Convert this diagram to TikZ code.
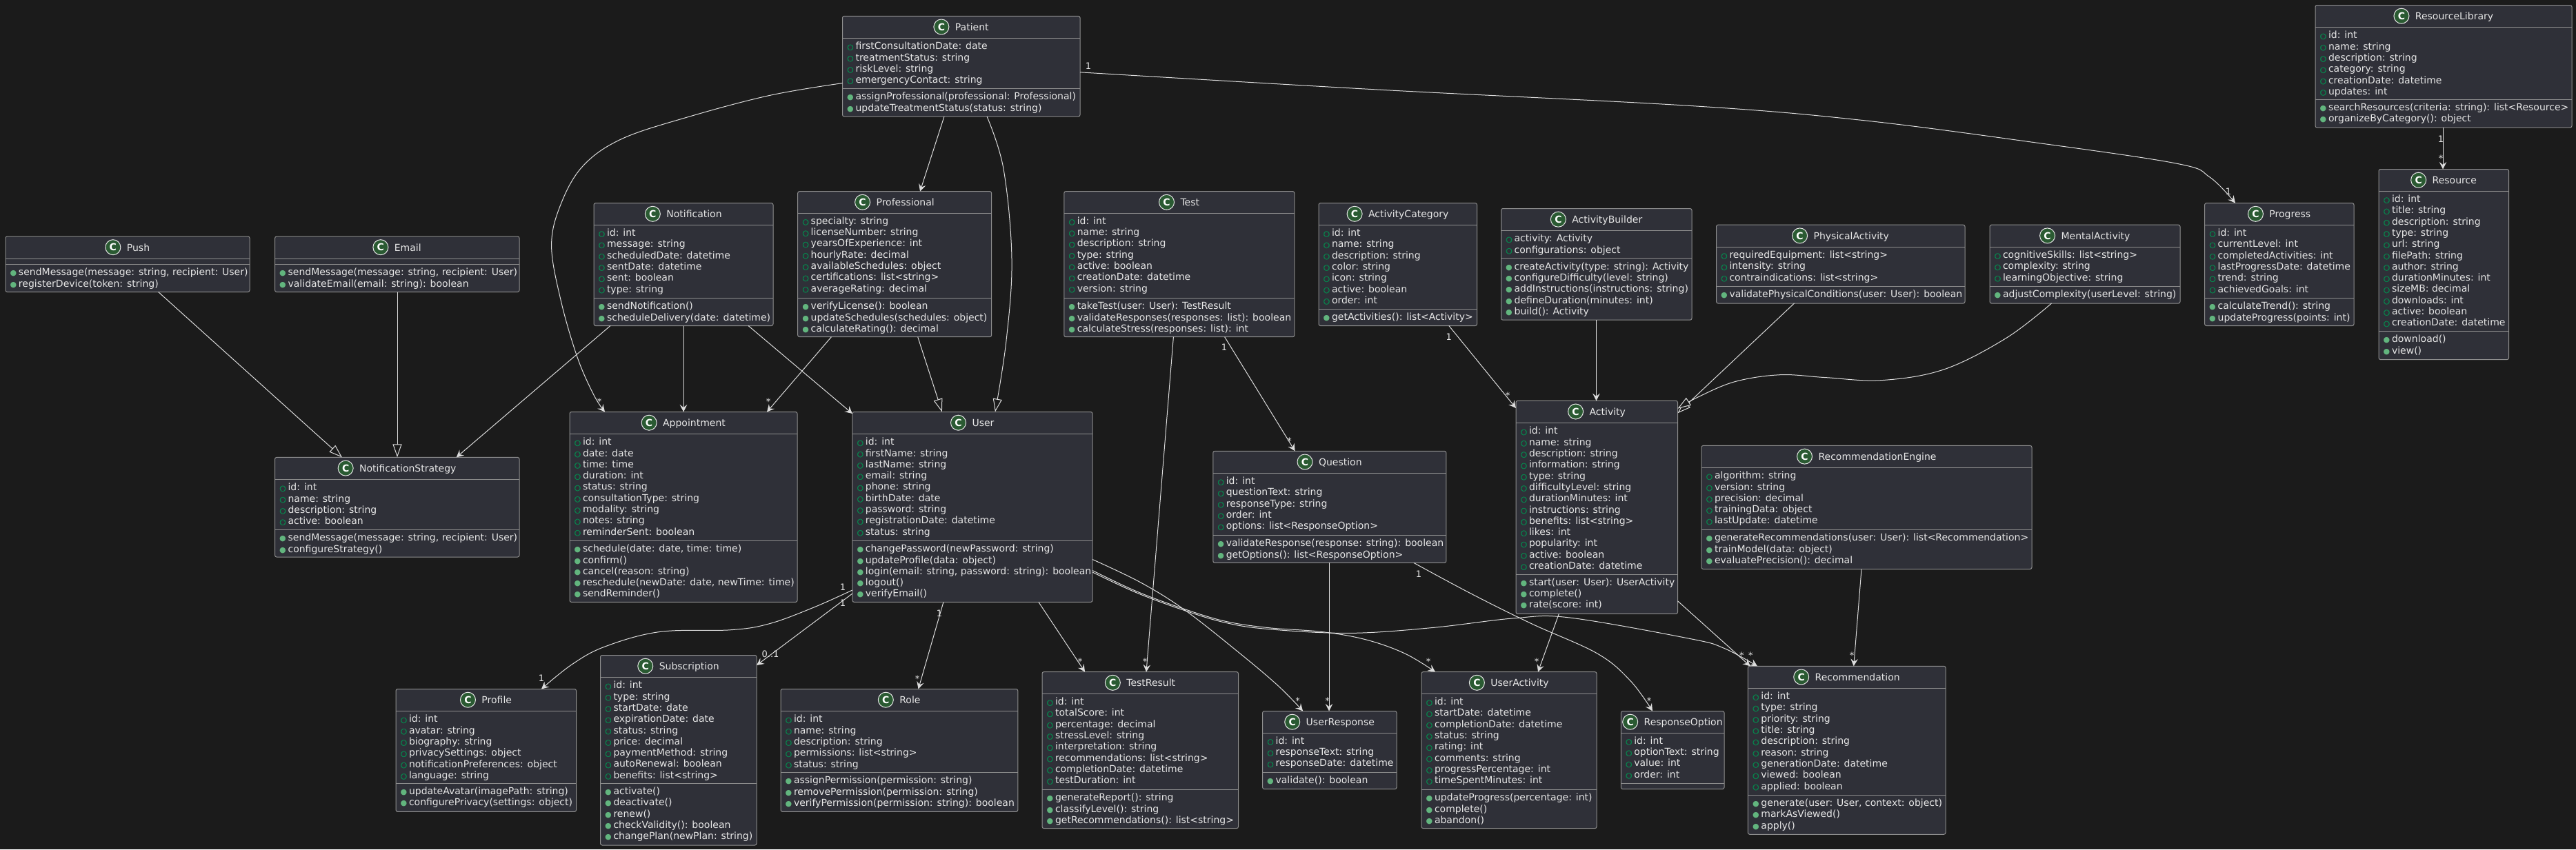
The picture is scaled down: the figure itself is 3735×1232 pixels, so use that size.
\documentclass[tikz,border=0pt]{standalone}
\usepackage{fontspec}
\setmainfont{DejaVu Sans}
\newfontface\circfont[FakeBold=1.5]{DejaVu Sans}
\usetikzlibrary{arrows.meta}
\definecolor{pagebg}{HTML}{1B1B1B}
\definecolor{boxfill}{HTML}{2F3038}
\definecolor{boxline}{HTML}{8E8E8E}
\definecolor{inktext}{HTML}{E6E6E6}
\definecolor{wire}{HTML}{DCDCDC}
\definecolor{fieldgreen}{HTML}{07854D}
\definecolor{methodgreen}{HTML}{62B57E}
\definecolor{iconfill}{HTML}{2A5A32}
\tikzset{
  classbox/.style={draw=boxline,fill=boxfill,line width=1pt,rounded corners=2.5pt,inner sep=0pt,outer sep=0pt},
  sepline/.style={draw=boxline,line width=1pt},
  titletext/.style={text=inktext,inner sep=0pt,outer sep=0pt,font=\fontsize{14}{16}\selectfont},
  iconcircle/.style={circle,draw=inktext,fill=iconfill,line width=1pt,minimum size=22pt,inner sep=0pt,text=white,font=\fontsize{14}{16}\selectfont\bfseries},
  rowsnode/.style={inner sep=0pt,outer sep=0pt,text=inktext,font=\fontsize{14}{16}\selectfont},
  lab/.style={inner sep=0pt,outer sep=0pt,anchor=base,text=inktext,font=\fontsize{13}{15}\selectfont},
  assoc/.style={draw=wire,line width=1pt,-{Stealth[length=10.5pt,width=10.5pt,inset=4pt,fill=wire]}},
  inherit/.style={draw=wire,line width=1pt,-{Triangle[open,length=19pt,width=13pt,fill=pagebg]}},
  curvy/.style={smooth,tension=0.6}
}
\newcommand{\ff}[1]{\hbox{\vrule height 12.6pt depth 3.7pt width 0pt\makebox[19pt][l]{\kern 6.6pt\fontsize{11}{11}\circfont\color{fieldgreen}○}#1}}
\newcommand{\mm}[1]{\hbox{\vrule height 12.6pt depth 3.7pt width 0pt\makebox[19pt][l]{\kern 6.6pt\fontsize{11}{11}\selectfont\color{methodgreen}●}#1}}
% name, x0, y0, x1, y1, header line y, divider y, fields, methods
\newcommand{\umlclass}[9]{%
  \node[classbox,anchor=north west,minimum width={(#4-#2)*1pt},minimum height={(#5-#3)*1pt}] (#1) at (#2,#3) {};
  \draw[sepline] (#2,#6) -- (#4,#6);
  \draw[sepline] (#2,#7) -- (#4,#7);
  \node[titletext,anchor=base] (#1-title) at ({(#2+#4)/2+15.5},{#3+21}) {#1};
  \node[iconcircle] (#1-icon) at ([xshift=-20pt,yshift=5.3pt]#1-title.base west) {C};
  \def\umltmp{#8}%
  \ifx\umltmp\empty\else
  \node[rowsnode,anchor=north west] (#1-fields) at (#2,{#6+3.7}) {\vbox{\offinterlineskip #8}};
  \fi
  \def\umltmp{#9}%
  \ifx\umltmp\empty\else
  \node[rowsnode,anchor=north west] (#1-methods) at (#2,{#7+3.7}) {\vbox{\offinterlineskip #9}};
  \fi
}
\begin{document}
\begin{tikzpicture}[x=1pt,y=-1pt]
\useasboundingbox (0,0) rectangle (3735,1232);
\fill[pagebg] (0,0) rectangle (3735,1232);

\umlclass{Patient}{1221.5}{23.3}{1566}{169}{55.4}{128.5}{\ff{firstConsultationDate: date}\ff{treatmentStatus: string}\ff{riskLevel: string}\ff{emergencyContact: string}}{\mm{assignProfessional(professional: Professional)}\mm{updateTreatmentStatus(status: string)}}
\umlclass{Push}{8}{343}{362}{423.5}{375}{383.5}{}{\mm{sendMessage(message: string, recipient: User)}\mm{registerDevice(token: string)}}
\umlclass{Email}{398.6}{343}{753}{423.5}{375}{383.5}{}{\mm{sendMessage(message: string, recipient: User)}\mm{validateEmail(email: string): boolean}}
\umlclass{Notification}{861}{294.6}{1121}{472.5}{326.2}{432.6}{\ff{id: int}\ff{message: string}\ff{scheduledDate: datetime}\ff{sentDate: datetime}\ff{sent: boolean}\ff{type: string}}{\mm{sendNotification()}\mm{scheduleDelivery(date: datetime)}}
\umlclass{Professional}{1156.7}{277.6}{1437.6}{488.7}{309}{432.6}{\ff{specialty: string}\ff{licenseNumber: string}\ff{yearsOfExperience: int}\ff{hourlyRate: decimal}\ff{availableSchedules: object}\ff{certifications: list<string>}\ff{averageRating: decimal}}{\mm{verifyLicense(): boolean}\mm{updateSchedules(schedules: object)}\mm{calculateRating(): decimal}}
\umlclass{Test}{1542.8}{277.6}{1876.8}{488.7}{309}{432.6}{\ff{id: int}\ff{name: string}\ff{description: string}\ff{type: string}\ff{active: boolean}\ff{creationDate: datetime}\ff{version: string}}{\mm{takeTest(user: User): TestResult}\mm{validateResponses(responses: list): boolean}\mm{calculateStress(responses: list): int}}
\umlclass{ActivityCategory}{1912}{294.6}{2141.5}{472.5}{326.2}{448.4}{\ff{id: int}\ff{name: string}\ff{description: string}\ff{color: string}\ff{icon: string}\ff{active: boolean}\ff{order: int}}{\mm{getActivities(): list<Activity>}}
\umlclass{ActivityBuilder}{2176.6}{302.5}{2453}{464.2}{334.5}{374.8}{\ff{activity: Activity}\ff{configurations: object}}{\mm{createActivity(type: string): Activity}\mm{configureDifficulty(level: string)}\mm{addInstructions(instructions: string)}\mm{defineDuration(minutes: int)}\mm{build(): Activity}}
\umlclass{PhysicalActivity}{2488.5}{326.2}{2849}{440}{358.2}{415.6}{\ff{requiredEquipment: list<string>}\ff{intensity: string}\ff{contraindications: list<string>}}{\mm{validatePhysicalConditions(user: User): boolean}}
\umlclass{MentalActivity}{2885}{326.2}{3161}{440}{358.2}{415.6}{\ff{cognitiveSkills: list<string>}\ff{complexity: string}\ff{learningObjective: string}}{\mm{adjustComplexity(userLevel: string)}}
\umlclass{Progress}{3196.6}{294.6}{3413}{472.5}{326.2}{432.6}{\ff{id: int}\ff{currentLevel: int}\ff{completedActivities: int}\ff{lastProgressDate: datetime}\ff{trend: string}\ff{achievedGoals: int}}{\mm{calculateTrend(): string}\mm{updateProgress(points: int)}}
\umlclass{ResourceLibrary}{3357}{7.5}{3729}{185}{39.5}{144.3}{\ff{id: int}\ff{name: string}\ff{description: string}\ff{category: string}\ff{creationDate: datetime}\ff{updates: int}}{\mm{searchResources(criteria: string): list<Resource>}\mm{organizeByCategory(): object}}
\umlclass{Resource}{3449}{245.5}{3637.5}{521.6}{277.2}{480.4}{\ff{id: int}\ff{title: string}\ff{description: string}\ff{type: string}\ff{url: string}\ff{filePath: string}\ff{author: string}\ff{durationMinutes: int}\ff{sizeMB: decimal}\ff{downloads: int}\ff{active: boolean}\ff{creationDate: datetime}}{\mm{download()}\mm{view()}}
\umlclass{NotificationStrategy}{398.6}{663.4}{753}{808}{695.4}{768.6}{\ff{id: int}\ff{name: string}\ff{description: string}\ff{active: boolean}}{\mm{sendMessage(message: string, recipient: User)}\mm{configureStrategy()}}
\umlclass{Appointment}{826}{597.5}{1156}{873.4}{629.4}{784.4}{\ff{id: int}\ff{date: date}\ff{time: time}\ff{duration: int}\ff{status: string}\ff{consultationType: string}\ff{modality: string}\ff{notes: string}\ff{reminderSent: boolean}}{\mm{schedule(date: date, time: time)}\mm{confirm()}\mm{cancel(reason: string)}\mm{reschedule(newDate: date, newTime: time)}\mm{sendReminder()}}
\umlclass{User}{1235.9}{597.5}{1584}{873.4}{629.4}{784.4}{\ff{id: int}\ff{firstName: string}\ff{lastName: string}\ff{email: string}\ff{phone: string}\ff{birthDate: date}\ff{password: string}\ff{registrationDate: datetime}\ff{status: string}}{\mm{changePassword(newPassword: string)}\mm{updateProfile(data: object)}\mm{login(email: string, password: string): boolean}\mm{logout()}\mm{verifyEmail()}}
\umlclass{Profile}{574}{999.5}{835.5}{1177.4}{1031.5}{1136.3}{\ff{id: int}\ff{avatar: string}\ff{biography: string}\ff{privacySettings: object}\ff{notificationPreferences: object}\ff{language: string}}{\mm{updateAvatar(imagePath: string)}\mm{configurePrivacy(settings: object)}}
\umlclass{Subscription}{870.5}{950.5}{1097}{1226}{982.5}{1136.3}{\ff{id: int}\ff{type: string}\ff{startDate: date}\ff{expirationDate: date}\ff{status: string}\ff{price: decimal}\ff{paymentMethod: string}\ff{autoRenewal: boolean}\ff{benefits: list<string>}}{\mm{activate()}\mm{deactivate()}\mm{renew()}\mm{checkValidity(): boolean}\mm{changePlan(newPlan: string)}}
\umlclass{Role}{1132}{999.5}{1475.8}{1177.4}{1031.5}{1120.5}{\ff{id: int}\ff{name: string}\ff{description: string}\ff{permissions: list<string>}\ff{status: string}}{\mm{assignPermission(permission: string)}\mm{removePermission(permission: string)}\mm{verifyPermission(permission: string): boolean}}
\umlclass{Question}{1758.8}{654.3}{2096.8}{816.4}{686.3}{776.5}{\ff{id: int}\ff{questionText: string}\ff{responseType: string}\ff{order: int}\ff{options: list<ResponseOption>}}{\mm{validateResponse(response: string): boolean}\mm{getOptions(): list<ResponseOption>}}
\umlclass{Activity}{2198}{581.3}{2432.5}{890.4}{613.6}{833}{\ff{id: int}\ff{name: string}\ff{description: string}\ff{information: string}\ff{type: string}\ff{difficultyLevel: string}\ff{durationMinutes: int}\ff{instructions: string}\ff{benefits: list<string>}\ff{likes: int}\ff{popularity: int}\ff{active: boolean}\ff{creationDate: datetime}}{\mm{start(user: User): UserActivity}\mm{complete()}\mm{rate(score: int)}}
\umlclass{TestResult}{1511}{974.6}{1795.5}{1201.6}{1006.2}{1145.4}{\ff{id: int}\ff{totalScore: int}\ff{percentage: decimal}\ff{stressLevel: string}\ff{interpretation: string}\ff{recommendations: list<string>}\ff{completionDate: datetime}\ff{testDuration: int}}{\mm{generateReport(): string}\mm{classifyLevel(): string}\mm{getRecommendations(): list<string>}}
\umlclass{UserResponse}{1830.6}{1031.5}{2025}{1144.6}{1063}{1120.5}{\ff{id: int}\ff{responseText: string}\ff{responseDate: datetime}}{\mm{validate(): boolean}}
\umlclass{UserActivity}{2061}{974.6}{2315}{1201.6}{1006.2}{1145.4}{\ff{id: int}\ff{startDate: datetime}\ff{completionDate: datetime}\ff{status: string}\ff{rating: int}\ff{comments: string}\ff{progressPercentage: int}\ff{timeSpentMinutes: int}}{\mm{updateProgress(percentage: int)}\mm{complete()}\mm{abandon()}}
\umlclass{ResponseOption}{2350.3}{1031.5}{2500}{1144.6}{1063}{1136.3}{\ff{id: int}\ff{optionText: string}\ff{value: int}\ff{order: int}}{}
\umlclass{RecommendationEngine}{2467}{646.4}{2946}{825.5}{678.4}{768.6}{\ff{algorithm: string}\ff{version: string}\ff{precision: decimal}\ff{trainingData: object}\ff{lastUpdate: datetime}}{\mm{generateRecommendations(user: User): list<Recommendation>}\mm{trainModel(data: object)}\mm{evaluatePrecision(): decimal}}
\umlclass{Recommendation}{2534.4}{966.3}{2821}{1210.3}{998.3}{1153.3}{\ff{id: int}\ff{type: string}\ff{priority: string}\ff{title: string}\ff{description: string}\ff{reason: string}\ff{generationDate: datetime}\ff{viewed: boolean}\ff{applied: boolean}}{\mm{generate(user: User, context: object)}\mm{markAsViewed()}\mm{apply()}}

% generalisations
\draw[inherit] ([xshift=221.6pt]Push.south west) -- ([xshift=97.4pt]NotificationStrategy.north west);
\draw[inherit] ([xshift=177.4pt]Email.south west) -- ([xshift=177.4pt]NotificationStrategy.north west);
\draw[inherit] ([xshift=174pt]Professional.south west) -- ([xshift=130pt]User.north west);
\draw[inherit] plot[curvy] coordinates {([xshift=209.5pt]Patient.south west) (1455,245) (1467,375.6) (1459,494) ([xshift=207pt]User.north west)};
\draw[inherit] ([xshift=113pt]PhysicalActivity.south west) -- ([yshift=-18pt]Activity.north east);
\draw[inherit] plot[curvy] coordinates {([xshift=89.5pt]MentalActivity.south west) (2909,490.3) (2818.8,535.8) (2728.6,551.6) (2646.7,547.6) (2581,543.7) (2515.6,553.6) (2462,576) ([yshift=-11.4pt]Activity.north east)};

% associations
\draw[assoc] ([xshift=24pt]Notification.south west) -- ([xshift=263.1pt]NotificationStrategy.north west);
\draw[assoc] ([xshift=130pt]Notification.south west) -- ([xshift=165pt]Appointment.north west);
\draw[assoc] ([xshift=224pt]Notification.south west) -- ([yshift=-2.5pt]User.north west);
\draw[assoc] plot[curvy] coordinates {([yshift=-97.3pt]Patient.north west) (1116,138.4) (996.5,170) (901,201.7) (845,241) (813,296.6) (799.6,356) (813,435) (837,518) (861,573) ([xshift=51pt]Appointment.north west)};
\draw[assoc] ([xshift=147.5pt]Patient.south west) -- ([xshift=177.3pt]Professional.north west);
\draw[assoc] ([xshift=48.7pt]Professional.south west) -- ([xshift=286pt]Appointment.north west);
\draw[assoc] plot[curvy] coordinates {([yshift=-81.5pt]Patient.north east) (1997,130) (2450,153.4) (2696,174) (2942,205.6) (3155,237) (3204,257) ([xshift=44.4pt]Progress.north west)};
\draw[assoc] ([xshift=185pt]ResourceLibrary.south west) -- ([xshift=93pt]Resource.north west);
\draw[assoc] ([xshift=158.6pt]Test.south west) -- ([xshift=151pt]TestResult.north west);
\draw[assoc] ([xshift=232.8pt]Test.south west) -- ([xshift=118.8pt]Question.north west);
\draw[assoc] ([xshift=188.8pt]ActivityCategory.south west) -- ([yshift=-10.7pt]Activity.north west);
\draw[assoc] ([xshift=137.9pt]ActivityBuilder.south west) -- ([xshift=116.5pt]Activity.north west);
\draw[assoc] plot[curvy] coordinates {([yshift=-258.5pt]User.north west) (1180,881) (1116,904.6) (1060,913.7) (956.6,916.5) (877,938) (829,964) ([xshift=211pt]Profile.north west)};
\draw[assoc] ([yshift=-263.5pt]User.north west) -- ([yshift=-14.5pt]Subscription.north east);
\draw[assoc] ([xshift=132pt]User.south west) -- ([xshift=199.5pt]Role.north west);
\draw[assoc] ([xshift=270pt]User.south west) -- ([xshift=62pt]TestResult.north west);
\draw[assoc] plot[curvy] coordinates {([yshift=-214pt]User.north east) (1654,845) (1718,885) (1798,948) (1854,995.5) ([xshift=58.5pt]UserResponse.north west)};
\draw[assoc] plot[curvy] coordinates {([yshift=-230pt]User.north east) (1646,857) (1710,881) (1774,900.6) (1838,910.5) (1917,916.5) (1981,928) (2037,948) ([xshift=20pt]UserActivity.north west)};
\draw[assoc] plot[curvy] coordinates {([yshift=-232.5pt]User.north east) (1646,859) (1710,883) (1774,902.6) (1838,912.5) (1957,918.4) (2077,910.5) (2196.5,896.7) (2276,896) (2450,926.4) (2499,940) ([xshift=13.6pt]Recommendation.north west)};
\draw[assoc] ([yshift=-290.5pt]Activity.north east) -- ([xshift=3.3pt]Recommendation.north west);
\draw[assoc] ([xshift=232pt]RecommendationEngine.south west) -- ([xshift=153.3pt]Recommendation.north west);
\draw[assoc] ([xshift=62.3pt]Activity.south west) -- ([xshift=169pt]UserActivity.north west);
\draw[assoc] ([xshift=168.2pt]Question.south west) -- ([xshift=96.4pt]UserResponse.north west);
\draw[assoc] plot[curvy] coordinates {([xshift=291pt]Question.south west) (2132.7,861) (2220.4,904.6) (2316,948) (2364,987.6) ([xshift=45.7pt]ResponseOption.north west)};

% multiplicity labels (y = baseline)
\node[lab] (m1) at (869,587.5) {*};
\node[lab] (m2) at (1114,587.5) {*};
\node[lab] (m3) at (1578,100.7) {1};
\node[lab] (m4) at (3231,282.7) {1};
\node[lab] (m5) at (3539,206.7) {1};
\node[lab] (m6) at (3539,234.5) {*};
\node[lab] (m7) at (1660,964.5) {*};
\node[lab] (m8) at (1775,508.7) {1};
\node[lab] (m9) at (1869.6,644.2) {*};
\node[lab] (m10) at (2100.8,493.4) {1};
\node[lab] (m11) at (2186,578.5) {*};
\node[lab] (m12) at (1222,856.7) {1};
\node[lab] (m13) at (785,988.4) {1};
\node[lab] (m14) at (1222,879.7) {1};
\node[lab] (m15) at (1117,953.7) {0..1};
\node[lab] (m16) at (1362,894.7) {1};
\node[lab] (m17) at (1330,989) {*};
\node[lab] (m18) at (1566,964.5) {*};
\node[lab] (m19) at (1881.6,1021.5) {*};
\node[lab] (m20) at (2071,964.5) {*};
\node[lab] (m21) at (2538.3,955) {*};
\node[lab] (m22) at (2525.4,955) {*};
\node[lab] (m23) at (2685,955) {*};
\node[lab] (m24) at (2228,964.5) {*};
\node[lab] (m25) at (1924.6,1021.5) {*};
\node[lab] (m26) at (2057,837.3) {1};
\node[lab] (m27) at (2391,1021.5) {*};
\end{tikzpicture}
\end{document}
